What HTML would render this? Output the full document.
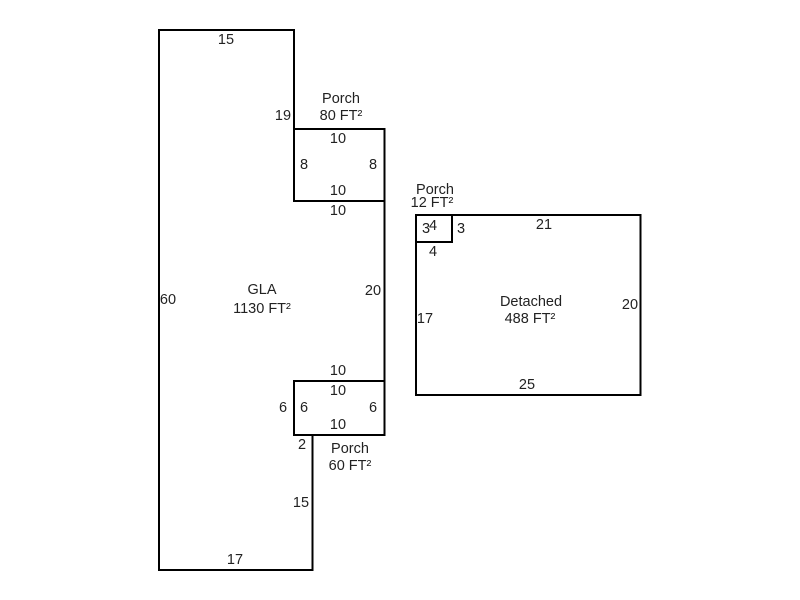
<!DOCTYPE html>
<html>
<head>
<meta charset="utf-8">
<style>
html,body{margin:0;padding:0;background:#fff;width:800px;height:600px;overflow:hidden}
svg{display:block}
text{font-family:"Liberation Sans",Arial,sans-serif;font-size:14.500px;fill:#222;text-anchor:middle}
.s{fill:none;stroke:#000;stroke-width:2;stroke-linejoin:miter}
</style>
</head>
<body>
<svg width="800" height="600" viewBox="0 0 800 600" xmlns="http://www.w3.org/2000/svg">
<path class="s" d="M159 30H294V201H384.500V381H294V435H312.500V570H159Z"/>
<rect class="s" x="294" y="129" width="90.500" height="72"/>
<rect class="s" x="294" y="381" width="90.500" height="54"/>
<rect class="s" x="416" y="215" width="224.500" height="180"/>
<rect class="s" x="416" y="215" width="36" height="27"/>

<text x="226" y="44">15</text>
<text x="283" y="120">19</text>
<text x="168" y="304">60</text>
<text x="262" y="294">GLA</text>
<text x="262" y="313">1130 FT²</text>
<text x="341" y="103">Porch</text>
<text x="341" y="120">80 FT²</text>
<text x="338" y="143">10</text>
<text x="304" y="169">8</text>
<text x="373" y="169">8</text>
<text x="338" y="195">10</text>
<text x="338" y="215">10</text>
<text x="373" y="295">20</text>
<text x="338" y="375">10</text>
<text x="338" y="395">10</text>
<text x="283" y="412">6</text>
<text x="304" y="412">6</text>
<text x="373" y="412">6</text>
<text x="338" y="429">10</text>
<text x="302" y="449">2</text>
<text x="350" y="453">Porch</text>
<text x="350" y="470">60 FT²</text>
<text x="301" y="507">15</text>
<text x="235" y="564">17</text>

<text x="435" y="194">Porch</text>
<text x="432" y="207">12 FT²</text>
<text x="426" y="233">3</text>
<text x="433" y="230">4</text>
<text x="461" y="233">3</text>
<text x="433" y="256">4</text>
<text x="544" y="229">21</text>
<text x="425" y="323">17</text>
<text x="630" y="309">20</text>
<text x="531" y="306">Detached</text>
<text x="530" y="323">488 FT²</text>
<text x="527" y="389">25</text>
</svg>
</body>
</html>
